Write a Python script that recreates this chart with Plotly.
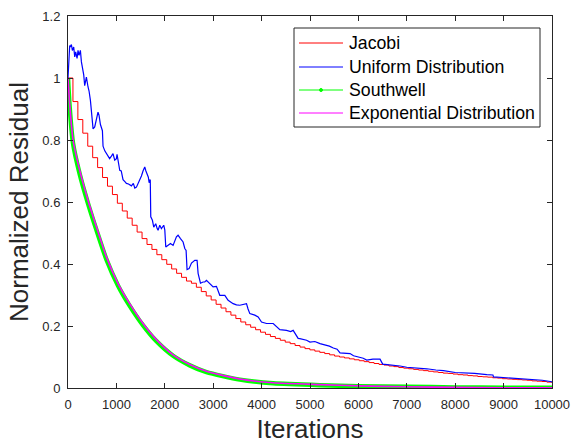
import plotly.graph_objects as go

# ---------------- data ----------------
jacobi_sweep = 102  # iterations per Jacobi sweep (stair width)
jacobi_vals = [
    1.000, 0.924, 0.866, 0.822, 0.780, 0.743, 0.711, 0.679, 0.651, 0.624,
    0.596, 0.571, 0.548, 0.525, 0.503, 0.482, 0.463, 0.447, 0.430, 0.414,
    0.399, 0.384, 0.370, 0.357, 0.345, 0.338, 0.325, 0.311, 0.297, 0.284,
    0.270, 0.258, 0.246, 0.235, 0.224, 0.213, 0.204, 0.196, 0.188, 0.180,
    0.173, 0.166, 0.160, 0.154, 0.148, 0.143, 0.137, 0.132, 0.127, 0.123,
    0.119, 0.115, 0.111, 0.107, 0.103, 0.100, 0.097, 0.094, 0.091, 0.088,
    0.085, 0.082, 0.079, 0.076, 0.074, 0.071, 0.069, 0.066, 0.064, 0.062,
    0.060, 0.058, 0.056, 0.054, 0.052, 0.050, 0.048, 0.047, 0.045, 0.043,
    0.042, 0.040, 0.039, 0.037, 0.036, 0.035, 0.033, 0.032, 0.030, 0.029,
    0.028, 0.027, 0.026, 0.025, 0.023, 0.022, 0.021, 0.019, 0.018,
]

uniform_iters = [
    0, 14, 35, 49, 70, 90, 118, 139, 159, 187, 207, 228, 256, 277, 297, 325,
    345, 366, 380, 414, 435, 463, 483, 518, 552, 587, 620, 641, 670, 711, 724,
    760, 793, 827, 860, 897, 930, 965, 1000, 1013, 1040, 1069, 1100, 1137,
    1180, 1207, 1250, 1276, 1310, 1350, 1380, 1414, 1450, 1480, 1517, 1550,
    1586, 1610, 1634, 1660, 1676, 1689, 1700, 1710, 1744, 1772, 1813, 1840,
    1861, 1896, 1930, 1978, 2000, 2020, 2068, 2117, 2171, 2206, 2240, 2274,
    2300, 2324, 2378, 2413, 2440, 2460, 2502, 2551, 2620, 2667, 2688, 2710,
    2737, 2791, 2826, 2861, 2930, 2998, 3067, 3100, 3136, 3240, 3308, 3412,
    3480, 3550, 3620, 3688, 3720, 3757, 3860, 3929, 3998, 4102, 4240, 4300,
    4377, 4515, 4600, 4652, 4700, 4755, 4790, 4929, 5000, 5100, 5207, 5300,
    5400, 5482, 5560, 5620, 5700, 5827, 5900, 6000, 6100, 6172, 6250, 6300,
    6400, 6447, 6502, 6585, 6700, 6860, 7000, 7200, 7412, 7600, 7757, 8000,
    8240, 8400, 8653, 8780, 8791, 9067, 9300, 9618, 9800, 9963, 10000,
]
uniform_vals = [
    1.000, 1.063, 1.105, 1.100, 1.108, 1.089, 1.100, 1.068, 1.084, 1.063,
    1.089, 1.073, 1.089, 1.052, 1.035, 1.010, 0.975, 0.990, 1.003, 0.971,
    0.958, 0.928, 0.890, 0.836, 0.842, 0.872, 0.890, 0.880, 0.850, 0.830,
    0.780, 0.765, 0.756, 0.751, 0.740, 0.748, 0.756, 0.735, 0.740, 0.754,
    0.720, 0.702, 0.700, 0.672, 0.665, 0.660, 0.658, 0.654, 0.652, 0.660,
    0.645, 0.648, 0.660, 0.670, 0.684, 0.700, 0.713, 0.700, 0.690, 0.680,
    0.662, 0.672, 0.670, 0.552, 0.541, 0.519, 0.530, 0.515, 0.509, 0.525,
    0.514, 0.525, 0.510, 0.455, 0.460, 0.466, 0.460, 0.476, 0.488, 0.493,
    0.485, 0.482, 0.471, 0.450, 0.444, 0.382, 0.385, 0.403, 0.412, 0.412,
    0.370, 0.352, 0.338, 0.342, 0.342, 0.347, 0.337, 0.326, 0.328, 0.315,
    0.299, 0.299, 0.283, 0.272, 0.268, 0.267, 0.270, 0.272, 0.255, 0.240,
    0.235, 0.229, 0.213, 0.208, 0.208, 0.200, 0.188, 0.186, 0.182, 0.186,
    0.175, 0.160, 0.159, 0.154, 0.148, 0.150, 0.143, 0.140, 0.135, 0.129,
    0.125, 0.113, 0.112, 0.111, 0.104, 0.100, 0.096, 0.090, 0.092, 0.093,
    0.093, 0.093, 0.077, 0.076, 0.074, 0.071, 0.067, 0.065, 0.062, 0.058,
    0.056, 0.050, 0.049, 0.047, 0.043, 0.042, 0.036, 0.033, 0.031, 0.027,
    0.025, 0.021, 0.020,
]

decay_iters = [0, 35, 103, 242, 414, 587, 793, 1034, 1275, 1551, 1827, 2171,
               2516, 2861, 3550, 4240, 5204, 6000, 7000, 8000, 9000, 10000]
southwell_vals = [1.000, 0.905, 0.790, 0.690, 0.595, 0.510, 0.415, 0.330,
                  0.265, 0.202, 0.151, 0.104, 0.073, 0.051, 0.027, 0.015,
                  0.009, 0.006, 0.004, 0.002, 0.001, 0.001]
exponential_vals = [1.000, 0.917, 0.800, 0.702, 0.605, 0.520, 0.423, 0.337,
                    0.272, 0.208, 0.156, 0.107, 0.076, 0.054, 0.029, 0.017,
                    0.011, 0.007, 0.004, 0.002, 0.001, 0.001]

x_ticks = [0, 1000, 2000, 3000, 4000, 5000, 6000, 7000, 8000, 9000, 10000]
y_ticks = [0, 0.2, 0.4, 0.6, 0.8, 1.0, 1.2]
y_tick_text = ["0", "0.2", "0.4", "0.6", "0.8", "1", "1.2"]

series_names = ["Jacobi", "Uniform Distribution", "Southwell",
                "Exponential Distribution"]
series_colors = ["#ff0000", "#0000ff", "#00ff00", "#ff00ff"]

# ---------------- figure ----------------
jac_x = [jacobi_sweep * k for k in range(len(jacobi_vals))] + [10000]
jac_y = jacobi_vals + [jacobi_vals[-1]]

FONT = "Liberation Sans, Arial, Helvetica, sans-serif"
AX = "#262626"

fig = go.Figure()
fig.add_trace(go.Scatter(x=jac_x, y=jac_y, mode="lines", name=series_names[0],
                         line=dict(color=series_colors[0], width=1, shape="hv")))
fig.add_trace(go.Scatter(x=uniform_iters, y=uniform_vals, mode="lines",
                         name=series_names[1],
                         line=dict(color=series_colors[1], width=1.2)))
fig.add_trace(go.Scatter(x=decay_iters, y=southwell_vals, mode="lines",
                         name=series_names[2],
                         line=dict(color=series_colors[2], width=4.5,
                                   shape="spline", smoothing=0.6)))
fig.add_trace(go.Scatter(x=decay_iters, y=exponential_vals, mode="lines",
                         name=series_names[3],
                         line=dict(color=series_colors[3], width=1.6,
                                   shape="spline", smoothing=0.6)))

axis_common = dict(showline=True, linecolor=AX, linewidth=1, mirror="ticks",
                   ticks="inside", ticklen=5, tickcolor=AX, tickwidth=1,
                   showgrid=False, zeroline=False, automargin=False,
                   tickfont=dict(family=FONT, size=13, color=AX))

fig.update_xaxes(range=[0, 10000], tickvals=x_ticks,
                 ticktext=[str(v) for v in x_ticks],
                 ticklabelstandoff=4,
                 title=dict(text="Iterations", standoff=10,
                            font=dict(family=FONT, size=26, color=AX)),
                 **axis_common)
fig.update_yaxes(range=[0, 1.2], tickvals=y_ticks, ticktext=y_tick_text,
                 ticklabelstandoff=4,
                 title=dict(text="Normalized Residual", standoff=6,
                            font=dict(family=FONT, size=26, color=AX)),
                 **axis_common)

# ---- legend box (MATLAB style), placed in paper coordinates ----
L, R, T, B = 68, 21, 16, 56
W, H = 573, 444
pw, ph = W - L - R, H - T - B


def px_x(p):
    return (p - L) / pw


def px_y(p):
    return (H - B - p) / ph


shapes = [dict(type="rect", xref="paper", yref="paper",
               x0=px_x(294), x1=px_x(540), y0=px_y(127), y1=px_y(28),
               line=dict(color=AX, width=1), fillcolor="white", layer="above")]
annotations = []
row_y = [43, 67, 90, 113]
for name, col, ry in zip(series_names, series_colors, row_y):
    shapes.append(dict(type="line", xref="paper", yref="paper",
                       x0=px_x(299), x1=px_x(343), y0=px_y(ry), y1=px_y(ry),
                       line=dict(color=col, width=1), layer="above"))
    annotations.append(dict(xref="paper", yref="paper", x=px_x(347),
                            y=px_y(ry), text=name, showarrow=False,
                            xanchor="left", yanchor="middle",
                            font=dict(family=FONT, size=17.7, color="black")))
# Southwell marker dot in legend
shapes.append(dict(type="circle", xref="paper", yref="paper",
                   x0=px_x(319.5), x1=px_x(322.5),
                   y0=px_y(row_y[2] + 1.5), y1=px_y(row_y[2] - 1.5),
                   line=dict(color=series_colors[2], width=1),
                   fillcolor=series_colors[2], layer="above"))

fig.update_layout(
    width=W, height=H, autosize=False,
    margin=dict(l=L, r=R, t=T, b=B, pad=0),
    paper_bgcolor="white", plot_bgcolor="white",
    font=dict(family=FONT, color="black"),
    showlegend=False,
    shapes=shapes, annotations=annotations,
)

fig.write_html("out.html")
